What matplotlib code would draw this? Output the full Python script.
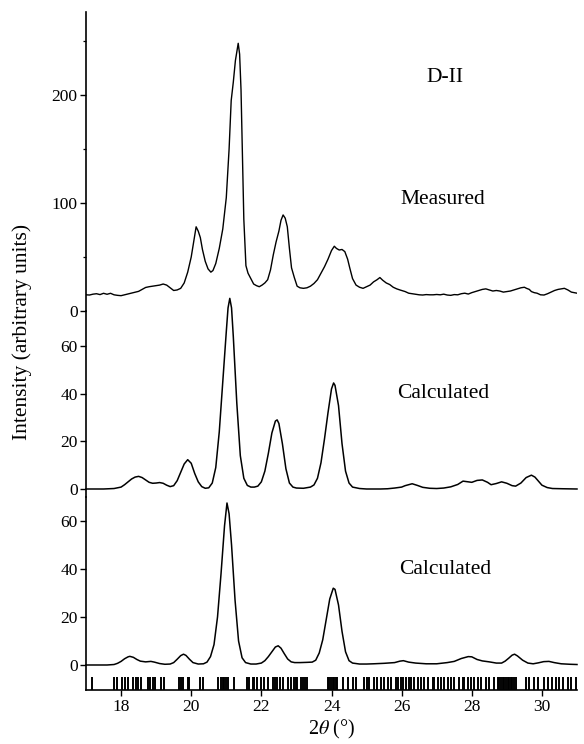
import matplotlib
matplotlib.use("Agg")
import matplotlib.pyplot as plt
import numpy as np

plt.rcParams['font.family'] = ['Liberation Serif', 'DejaVu Serif']
plt.rcParams['mathtext.fontset'] = 'stix'

# ---------------- data ----------------
meas_x = [17.00, 17.10, 17.20, 17.30, 17.40, 17.50, 17.60, 17.70, 17.80, 17.90,
          18.00, 18.10, 18.20, 18.30, 18.40, 18.50, 18.60, 18.70, 18.80, 18.90,
          19.00, 19.10, 19.20, 19.30, 19.40, 19.50, 19.60, 19.70, 19.80, 19.90,
          20.00, 20.08, 20.14, 20.20, 20.26, 20.32, 20.40, 20.48, 20.56, 20.62,
          20.70, 20.80, 20.90, 21.00, 21.08, 21.14, 21.20, 21.26, 21.30, 21.34,
          21.38, 21.42, 21.46, 21.50, 21.56, 21.62, 21.70, 21.78, 21.86, 21.94,
          22.02, 22.10, 22.18, 22.26, 22.34, 22.42, 22.50, 22.56, 22.62, 22.68,
          22.74, 22.80, 22.86, 22.94, 23.02, 23.10, 23.20, 23.30, 23.40, 23.50,
          23.60, 23.70, 23.80, 23.90, 24.00, 24.08, 24.14, 24.22, 24.30, 24.38,
          24.46, 24.52, 24.60, 24.70, 24.80, 24.90, 25.00, 25.10, 25.20, 25.30,
          25.38, 25.46, 25.56, 25.66, 25.76, 25.86, 25.96, 26.10, 26.20, 26.30,
          26.40, 26.50, 26.60, 26.70, 26.80, 26.90, 27.00, 27.10, 27.20, 27.30,
          27.40, 27.50, 27.60, 27.70, 27.80, 27.90, 28.00, 28.10, 28.20, 28.30,
          28.40, 28.50, 28.60, 28.70, 28.80, 28.90, 29.00, 29.10, 29.20, 29.30,
          29.40, 29.50, 29.56, 29.64, 29.70, 29.78, 29.86, 29.96, 30.06, 30.16,
          30.26, 30.36, 30.46, 30.56, 30.64, 30.74, 30.84, 30.92, 31.00]
meas_y = [15.0, 14.8, 15.6, 16.0, 15.2, 16.4, 15.5, 16.4, 15.0, 14.5,
          14.2, 15.0, 15.8, 16.5, 17.5, 18.2, 20.0, 21.8, 22.5, 23.0,
          23.5, 24.0, 25.0, 24.0, 21.5, 19.0, 19.5, 21.0, 26.0, 36.0,
          50.0, 66.0, 78.0, 74.0, 68.0, 57.0, 46.0, 39.0, 36.0, 37.5,
          44.0, 58.0, 76.0, 105.0, 150.0, 195.0, 212.0, 232.0, 240.0, 248.0,
          238.0, 205.0, 145.0, 85.0, 42.0, 35.0, 30.0, 25.0, 23.5, 22.5,
          24.0, 26.0, 29.0, 38.0, 52.0, 64.0, 74.0, 84.0, 89.0, 86.0,
          78.0, 58.0, 40.0, 31.0, 23.0, 21.5, 21.0, 21.5, 23.0, 25.5,
          29.0, 35.0, 41.0, 48.0, 56.0, 60.0, 58.0, 56.5, 57.0, 55.0,
          48.0, 40.0, 30.0, 24.0, 22.0, 21.0, 22.5, 24.0, 27.0, 29.0,
          31.0, 28.5, 26.0, 24.5, 22.0, 20.5, 19.4, 18.0, 16.5, 16.0,
          15.5, 15.0, 14.8, 15.2, 15.0, 15.0, 15.3, 15.0, 15.6, 14.8,
          14.5, 15.2, 15.0, 16.0, 16.5, 15.7, 17.0, 18.0, 19.0, 20.0,
          20.5, 19.5, 18.5, 19.0, 18.5, 17.5, 18.0, 18.5, 19.5, 20.5,
          21.5, 22.0, 21.0, 20.0, 18.0, 17.0, 16.5, 15.0, 14.8, 16.0,
          17.5, 19.0, 20.0, 20.5, 21.0, 19.5, 17.5, 17.0, 16.5]

calc1_x = [17.0, 17.5, 17.8, 18.0, 18.1, 18.2, 18.3, 18.4, 18.5, 18.6,
           18.7, 18.8, 18.9, 19.0, 19.1, 19.2, 19.3, 19.4, 19.5, 19.6,
           19.7, 19.8, 19.9, 20.0, 20.1, 20.2, 20.3, 20.4, 20.5, 20.6,
           20.7, 20.8, 20.9, 21.0, 21.05, 21.1, 21.15, 21.2, 21.3, 21.4,
           21.5, 21.6, 21.7, 21.8, 21.9, 22.0, 22.1, 22.2, 22.3, 22.4,
           22.45, 22.5, 22.6, 22.7, 22.8, 22.9, 23.0, 23.2, 23.4, 23.5,
           23.6, 23.7, 23.8, 23.9, 24.0, 24.06, 24.1, 24.2, 24.3, 24.4,
           24.5, 24.6, 24.8, 25.0, 25.2, 25.4, 25.6, 25.8, 26.0, 26.1,
           26.3, 26.45, 26.6, 26.8, 27.0, 27.2, 27.4, 27.6, 27.75, 27.9,
           28.0, 28.15, 28.3, 28.45, 28.55, 28.7, 28.85, 29.0, 29.15, 29.25,
           29.4, 29.55, 29.7, 29.8, 29.9, 30.0, 30.15, 30.3, 30.6, 31.0]
calc1_y = [0.0, 0.0, 0.2, 0.8, 1.8, 3.0, 4.2, 5.0, 5.3, 4.8,
           3.8, 2.8, 2.4, 2.5, 2.7, 2.4, 1.6, 1.0, 1.4, 3.5,
           7.0, 10.5, 12.3, 10.8, 6.5, 3.0, 1.0, 0.3, 0.5, 2.5,
           9.0, 24.0, 45.0, 66.0, 76.0, 80.0, 76.0, 64.0, 36.0, 14.0,
           4.5, 1.5, 0.8, 0.8, 1.2, 3.0, 7.5, 15.0, 23.5, 28.5,
           29.0, 27.5, 19.0, 8.5, 2.5, 0.8, 0.4, 0.3, 0.8, 1.7,
           4.5, 11.0, 21.0, 32.0, 42.0, 44.5, 43.5, 35.0, 19.0, 7.5,
           2.5, 0.8, 0.2, 0.0, 0.0, 0.0, 0.1, 0.4, 0.8, 1.4,
           2.2, 1.5, 0.7, 0.3, 0.2, 0.4, 0.9, 1.9, 3.3, 3.0,
           2.8, 3.6, 3.8, 2.8, 1.8, 2.3, 3.0, 2.4, 1.4, 1.2,
           2.5, 4.8, 5.8, 5.0, 3.3, 1.6, 0.6, 0.2, 0.1, 0.0]

calc2_x = [17.0, 17.6, 17.8, 17.9, 18.0, 18.1, 18.2, 18.25, 18.35, 18.45,
           18.55, 18.7, 18.85, 18.95, 19.1, 19.25, 19.4, 19.5, 19.6, 19.7,
           19.78, 19.85, 19.95, 20.05, 20.2, 20.35, 20.45, 20.55, 20.65, 20.75,
           20.85, 20.95, 21.02, 21.08, 21.15, 21.25, 21.35, 21.45, 21.55, 21.7,
           21.85, 22.0, 22.1, 22.2, 22.3, 22.4, 22.48, 22.56, 22.65, 22.75,
           22.85, 22.95, 23.1, 23.3, 23.45, 23.55, 23.65, 23.75, 23.85, 23.95,
           24.05, 24.1, 24.2, 24.3, 24.4, 24.5, 24.6, 24.8, 25.0, 25.2,
           25.5, 25.8, 25.95, 26.05, 26.2, 26.4, 26.7, 27.0, 27.3, 27.5,
           27.7, 27.9, 28.0, 28.15, 28.3, 28.5, 28.7, 28.85, 28.95, 29.05,
           29.15, 29.22, 29.3, 29.45, 29.6, 29.75, 29.9, 30.05, 30.2, 30.35,
           30.55, 30.8, 31.0]
calc2_y = [0.0, 0.0, 0.2, 0.7, 1.5, 2.6, 3.4, 3.6, 3.2, 2.3,
           1.6, 1.3, 1.5, 1.2, 0.6, 0.3, 0.4, 1.0, 2.4, 3.9,
           4.5, 4.0, 2.4, 1.0, 0.4, 0.5, 1.2, 3.5, 8.5, 20.0,
           38.0, 58.0, 67.5, 63.0, 50.0, 27.0, 10.0, 3.0, 1.0, 0.4,
           0.4, 0.8, 1.8, 3.5, 5.5, 7.5, 8.0, 7.0, 4.8, 2.5,
           1.3, 1.0, 1.0, 1.1, 1.2, 2.0, 5.0, 10.5, 19.0, 27.5,
           32.0, 31.5, 25.0, 14.0, 5.5, 1.8, 0.8, 0.4, 0.4, 0.5,
           0.7, 1.0, 1.6, 1.8, 1.2, 0.8, 0.5, 0.5, 1.0, 1.5,
           2.7, 3.5, 3.4, 2.3, 1.7, 1.3, 0.8, 0.8, 1.6, 2.8,
           4.1, 4.5, 3.8, 2.0, 0.8, 0.5, 0.9, 1.4, 1.5, 1.0,
           0.5, 0.3, 0.2]

reflections = [17.16, 17.81, 17.88, 18.02, 18.11, 18.19, 18.33, 18.43, 18.47, 18.57,
               18.76, 18.83, 18.90, 18.97, 19.14, 19.23, 19.66, 19.71, 19.78, 19.90,
               19.95, 20.26, 20.35, 20.75, 20.85, 20.90, 20.94, 20.99, 21.04, 21.23,
               21.59, 21.66, 21.75, 21.80, 21.89, 21.99, 22.08, 22.18, 22.32, 22.39,
               22.46, 22.54, 22.61, 22.75, 22.84, 22.94, 22.99, 23.03, 23.13, 23.18,
               23.24, 23.30, 23.89, 23.94, 23.98, 24.03, 24.08, 24.13, 24.17, 24.32,
               24.46, 24.60, 24.70, 24.93, 25.01, 25.08, 25.22, 25.31, 25.41, 25.50,
               25.60, 25.69, 25.84, 25.89, 25.98, 26.03, 26.12, 26.22, 26.26, 26.36,
               26.46, 26.55, 26.65, 26.74, 26.88, 26.93, 27.03, 27.12, 27.22, 27.31,
               27.41, 27.50, 27.64, 27.74, 27.79, 27.88, 27.98, 28.07, 28.17, 28.26,
               28.40, 28.50, 28.64, 28.74, 28.78, 28.83, 28.88, 28.93, 28.97, 29.02,
               29.07, 29.12, 29.16, 29.21, 29.25, 29.54, 29.64, 29.78, 29.88, 30.07,
               30.16, 30.30, 30.40, 30.49, 30.59, 30.73, 30.83, 30.97]

top_ticks = [0, 100, 200]
top_minor = [50, 150, 250]
calc_ticks = [0, 20, 40, 60]
x_ticks = [18, 20, 22, 24, 26, 28, 30]

panel_labels = ["D-II", "Measured", "Calculated", "Calculated"]

# ---------------- layout ----------------
W, H = 584, 744
fig = plt.figure(figsize=(W / 100, H / 100), dpi=100)
fig.patch.set_facecolor('white')

def fx(px):
    return px / W

def fy(py):
    return 1 - py / H

left_px, right_px = 86, 577
L = fx(left_px)
Wd = fx(right_px) - fx(left_px)

ax_top = fig.add_axes([L, fy(311), Wd, fy(12) - fy(311)])
ax_mid = fig.add_axes([L, fy(497), Wd, fy(311) - fy(497)])
ax_bot = fig.add_axes([L, fy(690), Wd, fy(497) - fy(690)])

for ax in (ax_top, ax_mid, ax_bot):
    ax.set_facecolor('none')
    ax.set_xlim(17, 31)
    for s in ('top', 'right'):
        ax.spines[s].set_visible(False)
    ax.spines['left'].set_linewidth(1.2)
    ax.tick_params(axis='y', direction='out', length=4.5, width=1.0,
                   pad=1.5, labelsize=12.5)
    ax.tick_params(axis='y', which='minor', direction='out', length=2.5, width=0.9)

for ax in (ax_top, ax_mid):
    ax.spines['bottom'].set_visible(False)
    ax.set_xticks([])

ax_bot.spines['bottom'].set_linewidth(1.2)

# top: measured
ax_top.plot(meas_x, meas_y, color='black', lw=1.0)
ax_top.set_ylim(0, 277)
ax_top.set_yticks(top_ticks)
ax_top.set_yticks(top_minor, minor=True)

# middle: calculated
ax_mid.plot(calc1_x, calc1_y, color='black', lw=1.1, clip_on=False)
ax_mid.set_ylim(-3.36, 74.7)
ax_mid.set_yticks(calc_ticks)

# bottom: calculated + reflection markers
ax_bot.plot(calc2_x, calc2_y, color='black', lw=1.1, clip_on=False)
ax_bot.vlines(reflections, -10.4, -5.0, color='black', lw=1.4)
ax_bot.set_ylim(-10.42, 70)
ax_bot.set_yticks(calc_ticks)
ax_bot.set_xticks(x_ticks)
ax_bot.tick_params(axis='x', direction='out', length=4, width=1.0,
                   pad=2.5, labelsize=12.5)
ax_bot.set_xlabel(r'2$\theta$ (°)', fontsize=14.5, labelpad=2)

# labels
fig.text(fx(22), fy(332), 'Intensity (arbitrary units)', rotation=90,
         ha='center', va='center', fontsize=15.5)
label_pos = [(445, 78), (443, 200), (443, 393), (445, 570)]
for txt, (px, py) in zip(panel_labels, label_pos):
    fig.text(fx(px), fy(py), txt, ha='center', va='center', fontsize=15.5)

fig.savefig('out.png', dpi=100)
